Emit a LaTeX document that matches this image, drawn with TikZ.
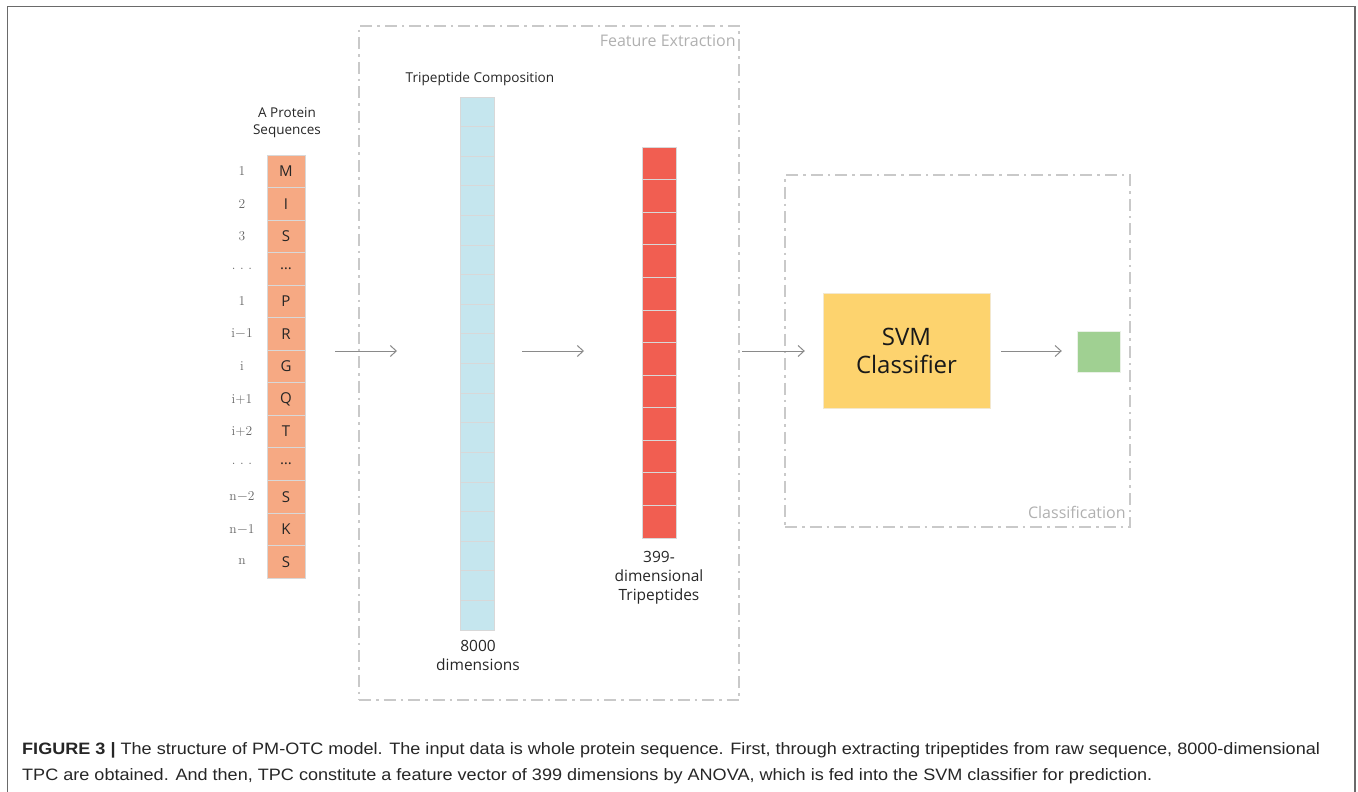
\documentclass[tikz,border=0pt]{standalone}
\usepackage{fontspec}
\setmainfont{Open Sans}
\newfontfamily\capfont{Liberation Sans}
\newfontfamily\numfont{Latin Modern Roman}
\usetikzlibrary{arrows.meta,calc}
\definecolor{protfill}{HTML}{F6A983}
\definecolor{tpcfill}{HTML}{C5E6EE}
\definecolor{redfill}{HTML}{F15E51}
\definecolor{svmfill}{HTML}{FDD36E}
\definecolor{greenfill}{HTML}{A0D092}
\definecolor{boxgray}{HTML}{C9C9C9}
\definecolor{labgray}{HTML}{B0B0B0}
\definecolor{arrgray}{HTML}{8A8A8A}
\definecolor{cellline}{HTML}{D8D8D8}
\definecolor{framegray}{HTML}{6A6A6A}
\newcommand\seqdots{\ldots}
\newcommand\numdots{.\,\,.\,\,.}
\tikzset{
  dashbox/.style={draw=boxgray, line width=1.6pt, dash pattern=on 12pt off 5pt on 2.5pt off 5pt},
  flowarrow/.style={draw=arrgray, line width=1pt, -{Straight Barb[length=6pt,width=11pt]}},
  cellbox/.style={draw=cellline, line width=0.8pt, inner sep=0pt, outer sep=0pt},
  lab/.style={font=\fontsize{13.5}{17}\selectfont, text=black!85, align=center, inner sep=0pt},
  numlab/.style={font=\numfont\fontsize{13.5}{15}\selectfont, text=black!60, inner sep=0pt},
  grouplab/.style={font=\fontsize{16}{19}\selectfont, text=labgray, inner sep=0pt},
  capline/.style={anchor=base west, inner sep=0pt, text=black!85, font=\capfont\fontsize{16.5}{20}\selectfont}
}
\begin{document}
\begin{tikzpicture}[x=1pt,y=-1pt]
\useasboundingbox (0,0) rectangle (1358,792);
% outer frame
\draw[framegray, line width=1.5pt] (7.5,800) -- (7.5,6.5) -- (1355,6.5) -- (1355,800);

% group boxes
\node[dashbox, minimum width=380pt, minimum height=674pt, inner sep=0pt] (fe) at (549,363) {};
\node[grouplab, anchor=north east] (felab) at ([xshift=-4pt,yshift=-9pt]fe.north east) {Feature Extraction};
\node[dashbox, minimum width=345pt, minimum height=352pt, inner sep=0pt] (cl) at (957.5,351) {};
\node[grouplab, anchor=south east] (cllab) at ([xshift=-5pt,yshift=9pt]cl.south east) {Classification};

% protein sequence column
\node[lab] (protlab) at (287,123) {A Protein\\Sequences};
\foreach \i/\c/\n in {0/M/1,1/I/2,2/S/3,3/\seqdots/\numdots,4/P/1,5/R/i{$-$}1,6/G/i,7/Q/i{+}1,8/T/i{+}2,9/\seqdots/\numdots,10/S/n{$-$}2,11/K/n{$-$}1,12/S/n}{
  \node[cellbox, fill=protfill, minimum width=38pt, minimum height=32.54pt,
        font=\fontsize{15}{17}\selectfont, text=black!85] (p\i) at (286,{171.27+32.54*\i}) {\c};
  \node[numlab] (n\i) at (242,{171.27+32.54*\i}) {\n};
}

% tripeptide composition column
\node[lab, font=\fontsize{13.6}{16}\selectfont] (tpclab) at (480,79) {Tripeptide Composition};
\node[cellbox, fill=tpcfill, minimum width=34pt, minimum height=533pt] (tpc) at (477,363.5) {};
\foreach \k in {1,...,17}{
  \draw[cellline, line width=0.8pt] ($(tpc.north west)+(0,{29.61*\k})$) -- ($(tpc.north east)+(0,{29.61*\k})$);
}
\node[lab, font=\fontsize{15.5}{19}\selectfont, anchor=north] (tpcdim) at (478,640) {8000\\dimensions};

% selected tripeptides column
\node[cellbox, fill=redfill, minimum width=34pt, minimum height=391pt] (sel) at (659,342.5) {};
\foreach \k in {1,...,11}{
  \draw[cellline, line width=0.8pt] ($(sel.north west)+(0,{32.58*\k})$) -- ($(sel.north east)+(0,{32.58*\k})$);
}
\node[lab, font=\fontsize{15.5}{19}\selectfont, anchor=north] (seldim) at (659,551) {399-\\dimensional\\Tripeptides};

% classifier
\node[draw=svmfill!85!black!30, fill=svmfill, minimum width=167pt, minimum height=115pt, inner sep=0pt,
      font=\fontsize{24}{28}\selectfont, text=black!90, align=center] (svm) at (906.5,350.5) {SVM\\Classifier};
\node[draw=greenfill!90!black!20, fill=greenfill, minimum width=43pt, minimum height=41pt, inner sep=0pt] (out) at (1098.5,351.5) {};

% arrows
\draw[flowarrow] ([xshift=30pt]p5.east |- 0,351) -- ([xshift=-63pt]tpc.west |- 0,351);
\draw[flowarrow] ([xshift=28pt]tpc.east |- 0,351) -- ([xshift=-58pt]sel.west |- 0,351);
\draw[flowarrow] ([xshift=66pt]sel.east |- 0,351) -- ([xshift=-18pt]svm.west |- 0,351);
\draw[flowarrow] ([xshift=11pt]svm.east |- 0,351) -- ([xshift=-15pt]out.west |- 0,351);

% caption
\node[capline] (cap1) at (22,754) {\scalebox{1.095}[1]{\textbf{FIGURE 3 |} The structure of PM-OTC model. The input data is whole protein sequence. First, through extracting tripeptides from raw sequence, 8000-dimensional}};
\node[capline] (cap2) at (22,780) {\scalebox{1.095}[1]{TPC are obtained. And then, TPC constitute a feature vector of 399 dimensions by ANOVA, which is fed into the SVM classifier for prediction.}};
\end{tikzpicture}
\end{document}
